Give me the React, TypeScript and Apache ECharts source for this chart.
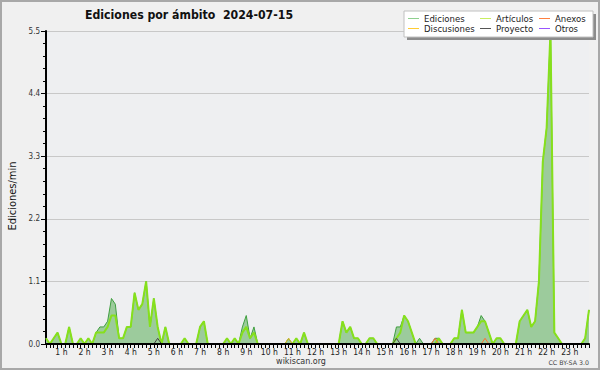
import React, { useEffect, useRef } from 'react';
import * as echarts from 'echarts';

const TITLE = 'Ediciones por ámbito  2024-07-15';
const Y_NAME = 'Ediciones/min';
const FOOTER = 'wikiscan.org';
const LICENSE = 'CC BY-SA 3.0';

// time axis in minutes of the day; one sample every 10 minutes
const START_MINUTE = 20;
const STEP_MINUTES = 10;
const END_MINUTE = 1430;

const Y_MAX = 5.5;
const Y_STEP = 1.1;

// Ediciones (total), edits/min per 10-minute bin
const EDICIONES = [
  0.1, 0, 0.1, 0.2, 0, 0, 0.3, 0, 0, 0.1, 0, 0.1,
  0, 0.2, 0.3, 0.3, 0.4, 0.8, 0.7, 0.1, 0.1, 0.3, 0.3, 0.9,
  0.6, 0.7, 1.1, 0.3, 0.8, 0.3, 0, 0.3, 0, 0, 0, 0,
  0.1, 0, 0, 0, 0.3, 0.4, 0, 0, 0, 0, 0, 0.1,
  0, 0.1, 0, 0.3, 0.5, 0.1, 0.3, 0, 0, 0, 0, 0,
  0, 0, 0, 0.1, 0, 0.1, 0, 0.2, 0, 0, 0, 0,
  0, 0, 0, 0, 0, 0.4, 0.2, 0.3, 0.1, 0.1, 0, 0,
  0.1, 0.1, 0, 0, 0, 0, 0, 0.3, 0.3, 0.5, 0.4, 0.2,
  0, 0.1, 0, 0, 0, 0.1, 0.1, 0, 0, 0, 0.1, 0.1,
  0.6, 0.2, 0.2, 0.2, 0.3, 0.5, 0.4, 0.2, 0, 0.1, 0.1, 0,
  0, 0, 0, 0.4, 0.5, 0.6, 0.3, 0.4, 1.1, 3.2, 3.8, 5.5,
  0.2, 0.1, 0, 0, 0, 0, 0, 0, 0.1, 0.6,
];

// Artículos
const ARTICULOS = [
  0.1, 0, 0.1, 0.2, 0, 0, 0.3, 0, 0, 0.1, 0, 0.1,
  0, 0.2, 0.2, 0.2, 0.3, 0.5, 0.5, 0.1, 0.1, 0.3, 0.3, 0.9,
  0.6, 0.7, 1.1, 0.3, 0.8, 0.3, 0, 0.3, 0, 0, 0, 0,
  0.1, 0, 0, 0, 0.3, 0.4, 0, 0, 0, 0, 0, 0.1,
  0, 0.1, 0, 0.2, 0.3, 0.1, 0.2, 0, 0, 0, 0, 0,
  0, 0, 0, 0, 0, 0.1, 0, 0.2, 0, 0, 0, 0,
  0, 0, 0, 0, 0, 0.4, 0.2, 0.3, 0.1, 0.1, 0, 0,
  0.1, 0.1, 0, 0, 0, 0, 0, 0.1, 0.2, 0.5, 0.4, 0.2,
  0, 0, 0, 0, 0, 0, 0.1, 0, 0, 0, 0.1, 0.1,
  0.6, 0.2, 0.2, 0.2, 0.3, 0.4, 0.4, 0.2, 0, 0.1, 0.1, 0,
  0, 0, 0, 0.4, 0.5, 0.6, 0.3, 0.4, 1.1, 3.2, 3.8, 5.5,
  0.2, 0.1, 0, 0, 0, 0, 0, 0, 0.1, 0.6,
];

// sparse series: [minute, edits/min]
const DISCUSIONES = [[640, 0], [650, 0.1], [660, 0]];
const PROYECTO = [[300, 0], [310, 0.1], [320, 0], [920, 0], [930, 0.1], [940, 0]];
const ANEXOS = [[1020, 0], [1030, 0.1], [1040, 0], [1150, 0], [1160, 0.1], [1170, 0]];
const OTROS: number[][] = [];

const LEGEND_NAMES = ['Ediciones', 'Artículos', 'Anexos', 'Discusiones', 'Proyecto', 'Otros'];
const LEGEND_COLORS = ['#8fd08f', '#c8ee60', '#ff8040', '#ffcc33', '#555555', '#9955ff'];

const FONT = 'DejaVu Sans';
const CFONT = '"DejaVu Sans Condensed", "DejaVu Sans"';

function toPairs(values: number[]) {
  return values.map((v, i) => [START_MINUTE + i * STEP_MINUTES, v]);
}

export default function App() {
  const ref = useRef<HTMLDivElement>(null);
  useEffect(() => {
    const chart = echarts.init(ref.current!, null, { renderer: 'svg' });

    const legendCols = [
      { lx: 408, tx: 424 },
      { lx: 480, tx: 496 },
      { lx: 539, tx: 555 },
    ];
    const legendRows = [18.5, 28.5];
    const legendItems: any[] = [];
    LEGEND_NAMES.forEach((name, k) => {
      const col = legendCols[k % 3];
      const y = legendRows[Math.floor(k / 3)];
      legendItems.push({
        type: 'line',
        z: 110,
        shape: { x1: col.lx, y1: y, x2: col.lx + 11, y2: y },
        style: { stroke: LEGEND_COLORS[k], lineWidth: 1 },
      });
      legendItems.push({
        type: 'text',
        z: 110,
        x: col.tx,
        y: y,
        style: {
          text: name,
          fontSize: 9.5,
          fontFamily: CFONT,
          fill: '#222',
          align: 'left',
          verticalAlign: 'middle',
        },
      });
    });

    const option: any = {
      animation: false,
      backgroundColor: '#f0f0f0',
      title: {
        text: TITLE,
        left: 80,
        top: 4,
        textStyle: { fontFamily: CFONT, fontWeight: 'bold', fontSize: 12.2, color: '#111' },
      },
      grid: {
        left: 46,
        right: 11,
        top: 31,
        bottom: 26,
        show: true,
        backgroundColor: '#eeeff1',
        borderWidth: 0,
      },
      xAxis: {
        type: 'value',
        min: START_MINUTE,
        max: END_MINUTE,
        interval: STEP_MINUTES,
        z: 10,
        axisLine: { show: true, onZero: false, lineStyle: { color: '#000', width: 2 } },
        axisTick: { show: true, length: 4, lineStyle: { color: '#000', width: 1 } },
        axisLabel: {
          margin: 3,
          fontSize: 8.5,
          fontFamily: CFONT,
          color: '#222',
          formatter: (v: number) => (Math.round(v) % 60 === 0 ? `${Math.round(v) / 60} h` : ''),
        },
        splitLine: { show: false },
      },
      yAxis: {
        type: 'value',
        min: 0,
        max: Y_MAX,
        interval: Y_STEP,
        axisLine: { show: true, lineStyle: { color: '#000', width: 2 } },
        axisTick: { show: true, length: 5, lineStyle: { color: '#000' } },
        minorTick: { show: true, splitNumber: 5, length: 3, lineStyle: { color: '#000' } },
        axisLabel: {
          margin: 6,
          fontSize: 8,
          fontFamily: CFONT,
          color: '#333',
          formatter: (v: number) => v.toFixed(1),
        },
        splitLine: { show: true, lineStyle: { color: '#c8c8c8', width: 1 } },
      },
      series: [
        {
          name: 'Ediciones',
          type: 'line',
          data: toPairs(EDICIONES),
          symbol: 'none',
          lineStyle: { color: '#3f9f3f', width: 1 },
          areaStyle: { color: '#9ccb9c', opacity: 1 },
          z: 2,
        },
        {
          name: 'Artículos',
          type: 'line',
          data: toPairs(ARTICULOS),
          symbol: 'none',
          lineStyle: { color: '#86e01c', width: 2 },
          z: 3,
        },
        {
          name: 'Discusiones',
          type: 'line',
          data: DISCUSIONES,
          symbol: 'none',
          lineStyle: { color: '#e8b820', width: 1 },
          z: 4,
        },
        {
          name: 'Proyecto',
          type: 'line',
          data: PROYECTO,
          symbol: 'none',
          lineStyle: { color: '#444444', width: 1 },
          z: 4,
        },
        {
          name: 'Anexos',
          type: 'line',
          data: ANEXOS,
          symbol: 'none',
          lineStyle: { color: '#ff7030', width: 1 },
          z: 4,
        },
        {
          name: 'Otros',
          type: 'line',
          data: OTROS,
          symbol: 'none',
          lineStyle: { color: '#9955ff', width: 1 },
          z: 4,
        },
      ],
      graphic: [
        {
          type: 'rect',
          z: 100,
          shape: { x: 1, y: 1, width: 598, height: 368 },
          style: { fill: 'none', stroke: '#a8a8a8', lineWidth: 2 },
        },
        {
          type: 'rect',
          z: 100,
          shape: { x: 407, y: 14, width: 189, height: 26 },
          style: { fill: '#8c8c8c' },
        },
        {
          type: 'rect',
          z: 101,
          shape: { x: 404, y: 11, width: 189, height: 26 },
          style: { fill: '#ffffff', stroke: '#c0c0c0', lineWidth: 1 },
        },
        ...legendItems,
        {
          type: 'text',
          z: 100,
          x: 12,
          y: 196,
          rotation: Math.PI / 2,
          style: {
            text: Y_NAME,
            fontSize: 11,
            fontFamily: CFONT,
            fill: '#111',
            align: 'center',
            verticalAlign: 'middle',
          },
        },
        {
          type: 'text',
          z: 100,
          x: 301,
          y: 361,
          style: {
            text: FOOTER,
            fontSize: 8,
            fontFamily: FONT,
            fill: '#333',
            align: 'center',
            verticalAlign: 'middle',
          },
        },
        {
          type: 'text',
          z: 100,
          x: 589,
          y: 362,
          style: {
            text: LICENSE,
            fontSize: 6.3,
            fontFamily: FONT,
            fill: '#444',
            align: 'right',
            verticalAlign: 'middle',
          },
        },
      ],
    };
    chart.setOption(option);
    return () => chart.dispose();
  }, []);
  return (
    <div
      ref={ref}
      style={{ position: 'fixed', left: 0, top: 0, width: 600, height: 370 }}
    />
  );
}
